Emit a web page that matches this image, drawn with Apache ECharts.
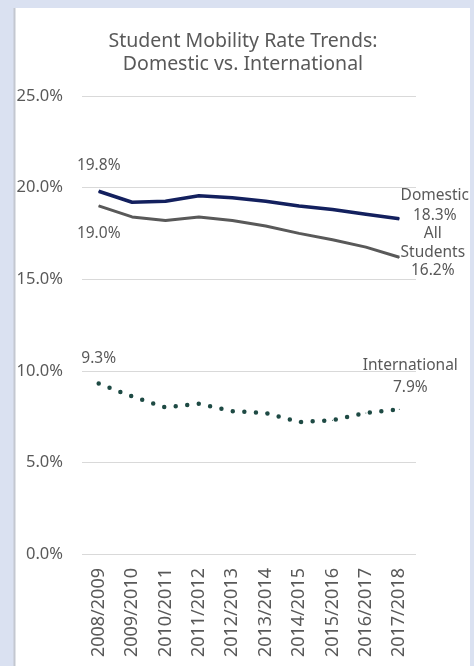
<!DOCTYPE html>
<html>
<head>
<meta charset="utf-8">
<script src="https://cdn.jsdelivr.net/npm/echarts@6/dist/echarts.min.js"></script>
<style>
  html, body { margin: 0; padding: 0; background: #dae1f1; }
  #chart { width: 474px; height: 666px; }
</style>
</head>
<body>
<div id="chart"></div>
<script>
// School years on the category axis
const years = ['2008/2009', '2009/2010', '2010/2011', '2011/2012', '2012/2013',
               '2013/2014', '2014/2015', '2015/2016', '2016/2017', '2017/2018'];

// Mobility rates, in percent
const domestic      = [19.8, 19.2, 19.25, 19.55, 19.45, 19.25, 19.0, 18.8, 18.55, 18.3];
const allStudents   = [19.0, 18.4, 18.2, 18.4, 18.2, 17.9, 17.5, 17.15, 16.75, 16.2];
const international = [9.3, 8.6, 8.0, 8.2, 7.8, 7.7, 7.2, 7.3, 7.7, 7.9];

// Value axis ticks
const yTicks = [0, 5, 10, 15, 20, 25];

const textGray = '#595959';
const font = 'Noto Sans';

function pct(v) { return v.toFixed(1) + '%'; }

// Labels only on the first and last points of each line
function endLabels(values, first, last) {
  return values.map((v, i) => {
    if (i === 0) return { value: v, label: Object.assign({ show: true }, first) };
    if (i === values.length - 1) return { value: v, label: Object.assign({ show: true }, last) };
    return v;
  });
}

const labelText = { color: textGray, fontFamily: font, fontSize: 15.5, lineHeight: 20 };

const chart = echarts.init(document.getElementById('chart'), null, { renderer: 'canvas' });

function lineSeries(name, values, color, lineStyle, first, last, z) {
  return {
    name: name,
    type: 'line',
    data: endLabels(values, first, last),
    symbol: 'circle',
    symbolSize: 1,
    showSymbol: true,
    itemStyle: { color: color },
    lineStyle: Object.assign({ color: color }, lineStyle),
    label: labelText,
    z: z
  };
}

chart.setOption({
  backgroundColor: '#dae1f1',
  animation: false,
  graphic: [
    { type: 'rect', z: -10, shape: { x: 15, y: 8, width: 455, height: 660 }, style: { fill: '#ffffff' } },
    { type: 'rect', z: -9, shape: { x: 13.5, y: 8, width: 2, height: 660 }, style: { fill: '#c3c7d0' } }
  ],
  title: {
    text: 'Student Mobility Rate Trends:\nDomestic vs. International',
    left: 238,
    textAlign: 'center',
    top: 25,
    textStyle: { color: textGray, fontFamily: font, fontSize: 19.5, fontWeight: 'normal', lineHeight: 23 }
  },
  grid: { left: 82, right: 58, top: 96, bottom: 112, containLabel: false },
  xAxis: {
    type: 'category',
    data: years,
    boundaryGap: true,
    axisLine: { show: false },
    axisTick: { show: false },
    axisLabel: { rotate: 90, margin: 14, color: textGray, fontFamily: font, fontSize: 18, interval: 0 }
  },
  yAxis: {
    type: 'value',
    min: yTicks[0],
    max: yTicks[yTicks.length - 1],
    interval: 5,
    axisLine: { show: false },
    axisTick: { show: false },
    splitLine: { lineStyle: { color: '#d9d9d9', width: 1.2 } },
    axisLabel: { margin: 19, color: textGray, fontFamily: font, fontSize: 16.5, formatter: v => pct(v) }
  },
  series: [
    lineSeries('All Students', allStudents, '#595959', { width: 3 },
      { position: 'bottom', distance: 17, formatter: p => pct(p.value) },
      { position: 'right', distance: 2, offset: [31, -5], align: 'center', lineHeight: 18.5,
        formatter: p => 'All\nStudents\n' + pct(p.value) }, 2),
    lineSeries('Domestic', domestic, '#13205e', { width: 3.5 },
      { position: 'top', distance: 15, formatter: p => pct(p.value) },
      { position: 'right', distance: 2, offset: [33, -13], align: 'center',
        formatter: p => 'Domestic\n' + pct(p.value) }, 3),
    lineSeries('International', international, '#1e4a44', { width: 4.5, type: [0, 11.6], cap: 'round' },
      { position: 'top', distance: 15, formatter: p => pct(p.value) },
      { position: 'top', distance: 10, offset: [11, 0], align: 'center', lineHeight: 22,
        formatter: p => 'International\n' + pct(p.value) }, 2)
  ]
});
</script>
</body>
</html>
